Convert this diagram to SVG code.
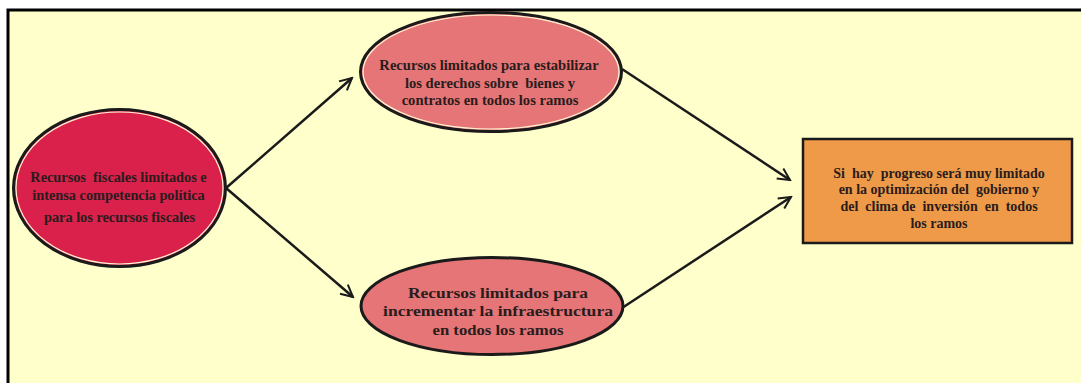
<svg xmlns="http://www.w3.org/2000/svg" width="1081" height="383" viewBox="0 0 1081 383">
  <defs>
    <marker id="arr" markerUnits="userSpaceOnUse" markerWidth="16" markerHeight="16" viewBox="0 0 16 16" refX="14" refY="8" orient="auto">
      <path d="M2,2 L14,8 L2,14" fill="none" stroke="#1a1a1a" stroke-width="2"/>
    </marker>
  </defs>
  <style>
    .bg { fill: #FFFFCC; }
    .border { stroke: #000; stroke-width: 3; fill: none; }
    .ell { stroke: #1a1a1a; stroke-width: 3; }
    .ring { fill: none; stroke: #FFF6D6; stroke-width: 1.2; }
    .conn { stroke: #1a1a1a; stroke-width: 2.5; fill: none; marker-end: url(#arr); }
    text { font-family: "Liberation Serif", "Times New Roman", serif; font-weight: bold; fill: #2a1c1c; text-anchor: middle; white-space: pre; }
  </style>
  <rect x="0" y="0" width="1081" height="383" fill="#ffffff"/>
  <rect class="bg" x="8" y="10" width="1073" height="373"/>
  <path class="border" d="M8,383 L8,10 L1081,10"/>

  <g id="connectors">
    <line class="conn" x1="226" y1="188" x2="352" y2="78"/>
    <line class="conn" x1="226" y1="188" x2="353" y2="297"/>
    <line class="conn" x1="622" y1="69" x2="790" y2="180"/>
    <line class="conn" x1="622" y1="308" x2="791" y2="197"/>
  </g>

  <g id="node-left">
    <ellipse class="ell" cx="119.5" cy="188" rx="106" ry="78.5" fill="#D9214B"/>
    <ellipse class="ring" cx="119.5" cy="188" rx="103.5" ry="76"/>
    <text x="118.5" y="182" font-size="14.3" xml:space="preserve">Recursos  fiscales limitados e</text>
    <text x="118.5" y="200" font-size="14.3">intensa competencia política</text>
    <text x="119.5" y="222" font-size="14.3">para los recursos fiscales</text>
  </g>

  <g id="node-top">
    <ellipse class="ell" cx="491" cy="72" rx="130.5" ry="59.5" fill="#E57576"/>
    <ellipse class="ring" cx="491" cy="72" rx="128" ry="57"/>
    <text x="489" y="70" font-size="14.6">Recursos limitados para estabilizar</text>
    <text x="490" y="87.5" font-size="14.6" xml:space="preserve">los derechos sobre  bienes y</text>
    <text x="490" y="104.5" font-size="14.6">contratos en todos los ramos</text>
  </g>

  <g id="node-bottom">
    <ellipse class="ell" cx="492" cy="306" rx="131" ry="48.5" fill="#E57576"/>
    <text x="498" y="297.5" font-size="15.5" textLength="180" lengthAdjust="spacingAndGlyphs">Recursos limitados para</text>
    <text x="498" y="316" font-size="15.5" textLength="230" lengthAdjust="spacingAndGlyphs">incrementar la infraestructura</text>
    <text x="498" y="334.5" font-size="15.5" textLength="131" lengthAdjust="spacingAndGlyphs">en todos los ramos</text>
  </g>

  <g id="node-result">
    <rect x="803" y="139" width="269" height="104" fill="#EE9A48" stroke="#1a1a1a" stroke-width="2.5"/>
    <text x="939" y="177.5" font-size="14" xml:space="preserve">Si  hay  progreso será muy limitado</text>
    <text x="939" y="194" font-size="14" xml:space="preserve">en la optimización del  gobierno y</text>
    <text x="939" y="210.5" font-size="14" xml:space="preserve">del  clima de  inversión  en  todos</text>
    <text x="939" y="227.5" font-size="14">los ramos</text>
  </g>
</svg>
